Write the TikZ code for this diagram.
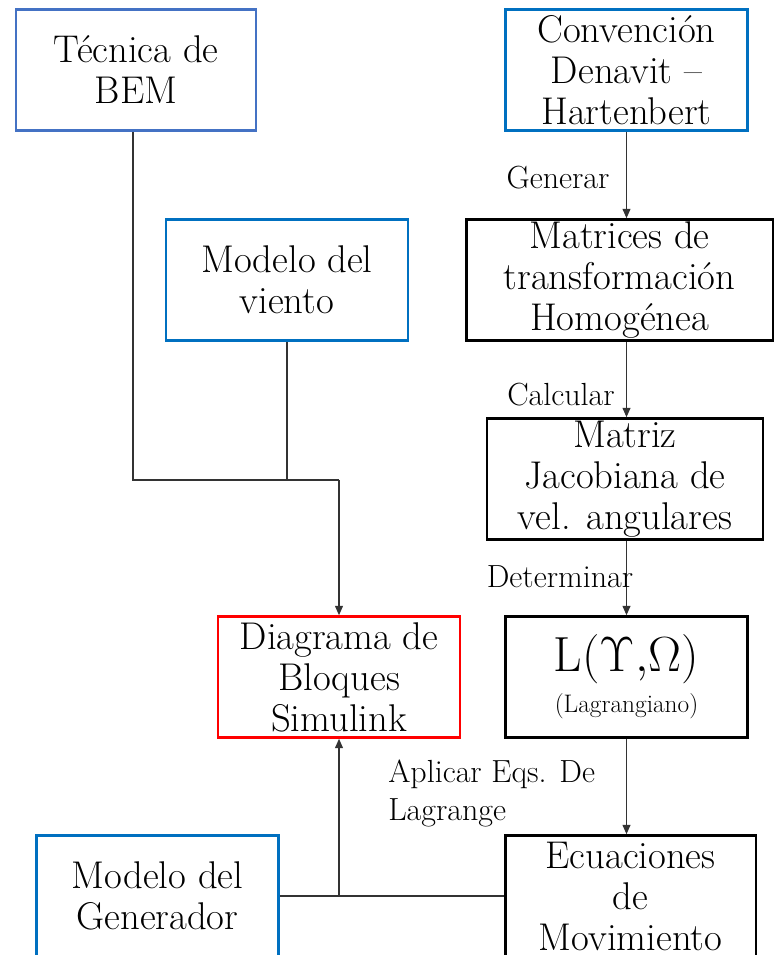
\RequirePackage{fix-cm}
\documentclass[tikz,border=0pt]{standalone}
\usepackage{fontspec}
\usetikzlibrary{arrows.meta, positioning, calc}
\usepackage{xcolor}
\definecolor{bemblue}{HTML}{4472C4}
\definecolor{boxblue}{HTML}{0070C0}
\definecolor{simred}{HTML}{FF0000}

\begin{document}
\begin{tikzpicture}[
  x=0.75pt, y=-0.75pt,
  block/.style={
    rectangle, draw=black, line width=2pt, fill=white,
    minimum width=181.5pt, minimum height=90.75pt,
    inner sep=0pt, align=center,
    font=\fontsize{29}{30.75}\selectfont
  },
  bluebox/.style={block, draw=boxblue},
  lbl/.style={font=\fontsize{24}{28}\selectfont, inner sep=0pt},
  link/.style={line width=0.8pt, black!80},
  arrow/.style={link, -{Triangle[length=7pt, width=6pt]}}
]
  \useasboundingbox (0,0) rectangle (776,955);

  % left column
  \node[block, draw=bemblue, minimum width=180pt] (bem) at (136,70) {Técnica de\\BEM};
  \node[bluebox] (viento) at (287,280) {Modelo del\\viento};
  \node[block, draw=simred] (diag) at (339,677) {Diagrama de\\Bloques\\Simulink};
  \node[bluebox] (gen) at (157.5,896) {Modelo del\\Generador};

  % right column
  \node[bluebox] (conv) at (626.5,70) {Convención\\Denavit --\\Hartenbert};
  \node[block, minimum width=230pt] (matr) at (619.5,280) {Matrices de\\transformación\\Homogénea};
  \node[block, minimum width=207pt] (jacob) at (625,479) {Matriz\\Jacobiana de\\vel. angulares};
  \node[block] (lagr) at (626.5,677) {{\fontsize{37}{40}\selectfont $\mathrm{L}(\Upsilon{,}\Omega)$}\\[0pt]{\fontsize{19}{20}\selectfont (Lagrangiano)}};
  \node[block, minimum width=188pt] (ecu) at (630.5,896) {Ecuaciones\\de\\Movimiento};

  % flujo derecho
  \draw[arrow] (conv.south) -- (conv.south |- matr.north);
  \draw[arrow] (conv.south |- matr.south) -- (conv.south |- jacob.north);
  \draw[arrow] (conv.south |- jacob.south) -- (conv.south |- lagr.north);
  \draw[arrow] (conv.south |- lagr.south) -- (conv.south |- ecu.north);

  \node[lbl] (generar) at (558,178) {Generar};
  \node[lbl] (calcular) at (561,395) {Calcular};
  \node[lbl] (determinar) at (560,577) {Determinar};
  \node[lbl, anchor=north west, align=left] (aplicar) at (388,760) {Aplicar Eqs. De\\Lagrange};

  % entradas al diagrama
  \coordinate (merge) at (339,480);
  \draw[link] (bem.south -| 133,0) |- (merge);
  \draw[link] (viento.south) -- (viento.south |- merge);
  \draw[arrow] (merge) -- (diag.north);

  \coordinate (merge2) at (diag.south |- gen.east);
  \draw[link] (gen.east) -- (ecu.west);
  \draw[arrow] (merge2) -- (diag.south);
\end{tikzpicture}
\end{document}
